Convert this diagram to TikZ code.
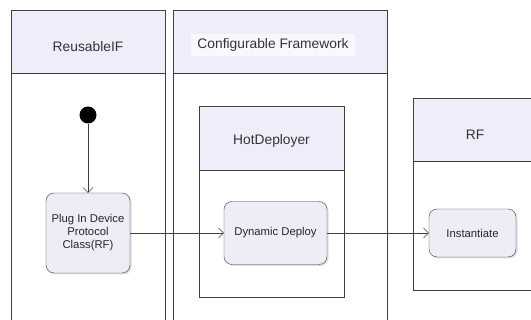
\documentclass[tikz,border=0pt]{standalone}
\usepackage{fontspec}
\setmainfont{Liberation Sans}
\usetikzlibrary{arrows.meta,shadows}
\definecolor{entete}{HTML}{EEEEFA}
\definecolor{activite}{HTML}{EDEDF8}
\definecolor{trait}{HTML}{404040}
\tikzset{
  couloir/.style={draw=trait, fill=white},
  entete/.style={draw=trait, fill=entete},
  titre/.style={font=\fontsize{13.8}{16}\selectfont, text=black!80},
  activite/.style={draw=trait, fill=activite, rounded corners=8pt, align=center,
    drop shadow={shadow xshift=1.5pt, shadow yshift=-1.5pt, fill=black!25},
    font=\fontsize{11.3}{13}\selectfont, text=black!85, inner sep=1pt},
  fleche/.style={draw=trait, -{Straight Barb[length=5pt,width=10pt]}}
}
\begin{document}
\begin{tikzpicture}[x=1pt, y=-1pt]
                \useasboundingbox (0,0) rectangle (531,320);
                \clip (0,0) rectangle (531,320);
                \fill[white] (0,0) rectangle (531,320);

                % Couloirs et cadres
                \draw[couloir] (11,10) rectangle (165,340);
                \draw[entete] (11,10) rectangle (165,73);
                \draw[couloir] (173,10) rectangle (387,340);
                \draw[entete] (173,10) rectangle (387,73);
                \draw[couloir] (199,106) rectangle (344,297);
                \draw[entete] (199,106) rectangle (344,170);
                \draw[couloir] (413,98) rectangle (545,290);
                \draw[entete] (413,98) rectangle (545,161);

                % Titres
                \node[titre] (reusable) at (88,47) {ReusableIF};
                \node[titre, fill=entete!40, inner xsep=6pt, inner ysep=5pt] (framework) at (273,45) {Configurable Framework};
                \node[titre] (hotdeployer) at (271.5,141) {HotDeployer};
                \node[titre] (rf) at (475,135) {RF};

                % Etat initial et activites
                \node[circle, fill=black, minimum size=17pt, inner sep=0pt] (init) at (88,115) {};
                \node[activite, minimum width=84pt, minimum height=80pt] (plug) at (88,233) {Plug In Device\\Protocol\\Class(RF)};
                \node[activite, minimum width=103pt, minimum height=63pt] (deploy) at (275.5,233) {Dynamic Deploy};
                \node[activite, minimum width=87pt, minimum height=48pt] (inst) at (472.5,233) {Instantiate};

                % Transitions
                \draw[fleche] (init) -- (plug);
                \draw[fleche] (plug) -- (deploy);
                \draw[fleche] (deploy) -- (inst);
\end{tikzpicture}
\end{document}
